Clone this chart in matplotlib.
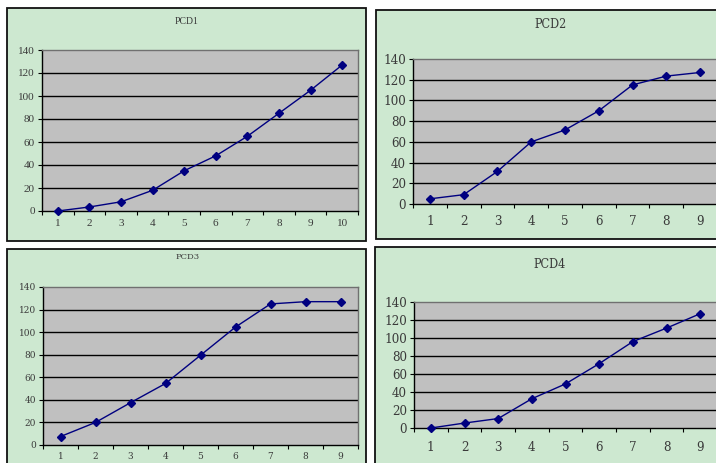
import numpy as np
import matplotlib
matplotlib.use('Agg')
import matplotlib.pyplot as plt
from matplotlib.patches import Rectangle
from matplotlib import font_manager

# Values
pcd1 = [0, 3.5, 8, 18, 35, 48, 65, 85, 105, 127]
pcd2 = [5, 9, 31.5, 60, 71.5, 90, 115, 123.5, 127]
pcd3 = [7.5, 20, 37.5, 54.5, 79.5, 104.5, 125, 127, 127]
pcd4 = [0, 5.5, 10.5, 32.5, 49, 71.5, 96, 111, 127]
titles = ['PCD1', 'PCD2', 'PCD3', 'PCD4']
yticks = [0, 20, 40, 60, 80, 100, 120, 140]

W, H = 716, 463
fig = plt.figure(figsize=(W / 100, H / 100), dpi=100)
fig.patch.set_facecolor('white')

bg = '#cde8d0'
txt = '#3a3a3a'

# narrow serif for the two right panels, if the condensed face is there
cond = [f.name for f in font_manager.fontManager.ttflist if 'Condensed' in f.fname and 'Serif' in f.fname]
narrow = dict(family='DejaVu Serif', stretch='condensed') if cond else dict(family='Liberation Serif')

def frac(x0, y0, x1, y1):
    # pixel box (top-left origin) -> figure fraction
    return [x0 / W, 1 - y1 / H, (x1 - x0) / W, (y1 - y0) / H]

# panel layout: outer box, plot area, title position, font sizes, x label pad
panels = [
    dict(data=pcd1, box=(7, 8, 366, 241), plot=(42, 50, 358, 211), tpos=(187, 22), tfs=7, fs=8, pad=5.5,
         font=dict(family='Liberation Serif')),
    dict(data=pcd2, box=(376, 10, 722, 239), plot=(413, 59, 717, 204), tpos=(551, 25), tfs=9, fs=9.5, pad=8,
         font=narrow),
    dict(data=pcd3, box=(7, 249, 366, 472), plot=(43, 287, 358, 445), tpos=(188, 257), tfs=6, fs=6.5, pad=5,
         font=dict(family='DejaVu Serif')),
    dict(data=pcd4, box=(375, 247, 722, 472), plot=(414, 302, 717, 428), tpos=(550, 265), tfs=9, fs=9.5, pad=9.5,
         font=narrow),
]

for p, title in zip(panels, titles):
    x0, y0, x1, y1 = p['box']
    r = Rectangle((x0 / W, 1 - y1 / H), (x1 - x0) / W, (y1 - y0) / H,
                  transform=fig.transFigure, facecolor=bg, edgecolor='#111111',
                  linewidth=1.3, zorder=-5)
    fig.add_artist(r)
    fig.text(p['tpos'][0] / W, 1 - p['tpos'][1] / H, title, ha='center', va='center',
             fontsize=p['tfs'], color=txt, **p['font'])

    ax = fig.add_axes(frac(*p['plot']))
    ax.set_zorder(2)
    ax.set_facecolor('#c0c0c0')
    n = len(p['data'])
    x = np.arange(1, n + 1)
    ax.plot(x, p['data'], color='#000080', linewidth=1, marker='D', markersize=4,
            markerfacecolor='#000080', markeredgecolor='#000080', zorder=3, clip_on=False)
    ax.set_xlim(0.5, n + 0.5)
    ax.set_ylim(0, 140)
    for v in yticks[1:-1]:
        ax.axhline(v, color='black', linewidth=1, zorder=1)
    ax.set_yticks(yticks)
    ax.set_xticks(x)
    ax.set_xticks(np.arange(0.5, n + 1), minor=True)
    ax.tick_params(axis='x', which='major', length=0, pad=p['pad'], labelsize=p['fs'], labelcolor=txt)
    ax.tick_params(axis='x', which='minor', length=3, direction='out', width=0.8)
    ax.tick_params(axis='y', length=3, direction='out', width=0.8, pad=2,
                   labelsize=p['fs'], labelcolor=txt)
    for lab in ax.get_xticklabels() + ax.get_yticklabels():
        lab.set_family(p['font']['family'])
        if 'stretch' in p['font']:
            lab.set_stretch(p['font']['stretch'])
    ax.spines['left'].set_color('black')
    ax.spines['bottom'].set_color('black')
    ax.spines['top'].set_color('#707070')
    ax.spines['right'].set_color('#707070')
    for s in ax.spines.values():
        s.set_linewidth(1)

fig.savefig('out.png', dpi=100)
